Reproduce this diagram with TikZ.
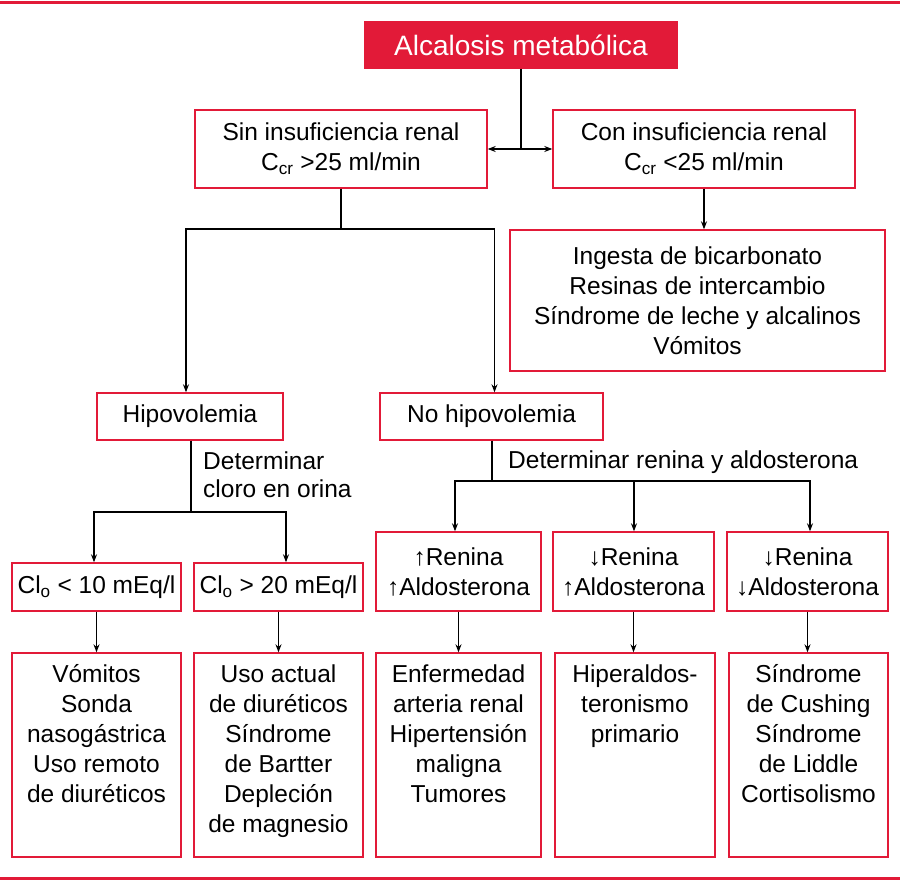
\documentclass[tikz,border=0pt]{standalone}
\usepackage{fontspec}
\setmainfont{Liberation Sans}
\usetikzlibrary{arrows.meta}
\definecolor{myred}{RGB}{226,26,56}
\begin{document}
\begin{tikzpicture}[x=1pt,y=-1pt,
  box/.style={draw=myred,line width=1.4pt,inner sep=0pt,align=center,font=\fontsize{24.5}{30}\selectfont},
  conn/.style={line width=1.1pt,black},
  tipA/.tip={Stealth[length=8pt,width=6pt]},
  arr/.style={conn,-tipA},
  txt/.style={inner sep=0pt,font=\fontsize{24.5}{30}\selectfont}]
\useasboundingbox (0,0) rectangle (900,888);
\fill[white] (0,0) rectangle (900,888);
\draw[myred,line width=3pt] (0,3) -- (900,3);
\draw[myred,line width=3pt] (0,878) -- (900,878);

\node[box,fill=myred,text=white,font=\fontsize{28}{32}\selectfont,minimum width=312pt,minimum height=46pt] (title) at (521,45) {Alcalosis metabólica};

\node[box,minimum width=292pt,minimum height=78pt] (sin) at (341,149) {Sin insuficiencia renal\\C\textsubscript{cr} >25 ml/min};
\node[box,minimum width=302pt,minimum height=78pt] (con) at (704,149) {Con insuficiencia renal\\C\textsubscript{cr} <25 ml/min};
\node[box,minimum width=375pt,minimum height=141pt] (ing) at (697.5,300.5) {Ingesta de bicarbonato\\Resinas de intercambio\\Síndrome de leche y alcalinos\\Vómitos};

\node[box,minimum width=186pt,minimum height=47pt] (hipo) at (190,416.5) {Hipovolemia};
\node[box,minimum width=223pt,minimum height=47pt] (nohipo) at (491.5,416.5) {No hipovolemia};

\node[txt,anchor=north west,align=left,font=\fontsize{24.5}{28}\selectfont] (detcl) at (203,446) {\rule{0pt}{23pt}Determinar\\cloro en orina};
\node[txt,anchor=base west] (detren) at (508,468) {Determinar renina y aldosterona};

\node[box,minimum width=169pt,minimum height=48pt] (cl1) at (96.5,587) {Cl\textsubscript{o} < 10 mEq/l};
\node[box,minimum width=169pt,minimum height=48pt] (cl2) at (278.5,587) {Cl\textsubscript{o} > 20 mEq/l};
\node[box,minimum width=165pt,minimum height=79pt] (r1) at (458.5,571.5) {↑Renina\\↑Aldosterona};
\node[box,minimum width=161pt,minimum height=79pt] (r2) at (633.5,571.5) {↓Renina\\↑Aldosterona};
\node[box,minimum width=161pt,minimum height=79pt] (r3) at (807.5,571.5) {↓Renina\\↓Aldosterona};

\node[box,minimum width=169pt,minimum height=204pt] (b1) at (96.5,755) {};
\node[box,minimum width=169pt,minimum height=204pt] (b2) at (278.5,755) {};
\node[box,minimum width=165pt,minimum height=204pt] (b3) at (458.5,755) {};
\node[box,minimum width=160pt,minimum height=204pt] (b4) at (635,755) {};
\node[box,minimum width=159pt,minimum height=204pt] (b5) at (808.5,755) {};

\node[txt,anchor=north,align=center] (t1) at ([yshift=-7pt]b1.north) {\rule{0pt}{23pt}Vómitos\\Sonda\\nasogástrica\\Uso remoto\\de diuréticos};
\node[txt,anchor=north,align=center] (t2) at ([yshift=-7pt]b2.north) {\rule{0pt}{23pt}Uso actual\\de diuréticos\\Síndrome\\de Bartter\\Depleción\\de magnesio};
\node[txt,anchor=north,align=center] (t3) at ([yshift=-7pt]b3.north) {\rule{0pt}{23pt}Enfermedad\\arteria renal\\Hipertensión\\maligna\\Tumores};
\node[txt,anchor=north,align=center] (t4) at ([yshift=-7pt]b4.north) {\rule{0pt}{23pt}Hiperaldos-\\teronismo\\primario};
\node[txt,anchor=north,align=center] (t5) at ([yshift=-7pt]b5.north) {\rule{0pt}{23pt}Síndrome\\de Cushing\\Síndrome\\de Liddle\\Cortisolismo};

% connectors
\coordinate (tj) at (title.south |- sin.east);
\draw[conn] (title.south) -- (tj);
\draw[conn,tipA-tipA] (sin.east) -- (con.west);

\coordinate (sj) at (341,229);
\draw[conn] (sin.south) -- (sj);
\draw[arr] (sj) -| ([xshift=-4pt]hipo.north);
\draw[arr] (sj) -| ([xshift=3pt]nohipo.north);

\draw[arr] (con.south) -- (con.south |- ing.north);

\coordinate (hj) at (191,512);
\draw[conn] (hipo.south -| hj) -- (hj);
\draw[arr] (hj) -| ([xshift=-2.5pt]cl1.north);
\draw[arr] (hj) -| ([xshift=7.5pt]cl2.north);

\coordinate (nj) at (492,481);
\draw[conn] (nohipo.south -| nj) -- (nj);
\draw[arr] (nj) -| ([xshift=-3.5pt]r1.north);
\draw[arr] (nj) -| ([xshift=0.5pt]r2.north);
\draw[arr] (nj) -| ([xshift=2.5pt]r3.north);

\draw[arr] (cl1.south) -- (cl1.south |- b1.north);
\draw[arr] (cl2.south) -- (cl2.south |- b2.north);
\draw[arr] (r1.south) -- (r1.south |- b3.north);
\draw[arr] (r2.south) -- (r2.south |- b4.north);
\draw[arr] (r3.south) -- (r3.south |- b5.north);
\end{tikzpicture}
\end{document}
